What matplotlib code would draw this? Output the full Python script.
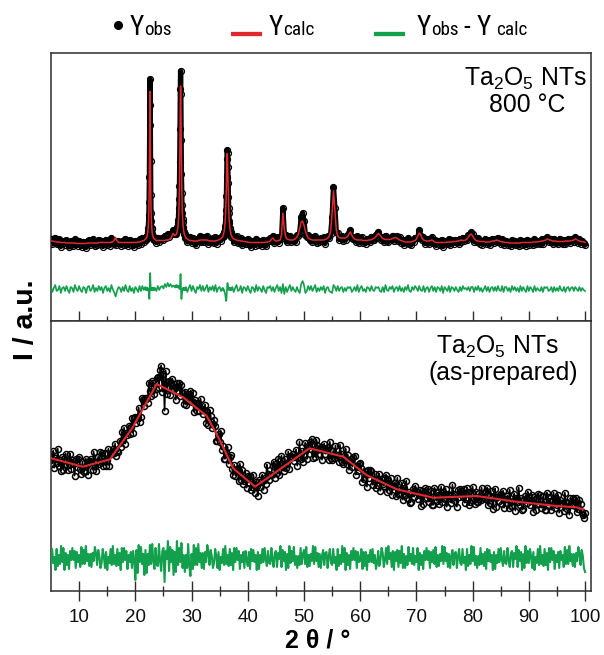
import numpy as np
import matplotlib
matplotlib.use("Agg")
import matplotlib.pyplot as plt
from matplotlib import font_manager as fm
from matplotlib.font_manager import FontProperties
from matplotlib.lines import Line2D
from matplotlib.ticker import FixedLocator

# ============================ DATA ============================
# ---- upper panel: Ta2O5 NTs 800 °C (sampling segments: start 2θ, step) ----
top_a_start, top_a_step = 5.0, 0.25
top_calc_a = [2, 2, 1.5, 1.5, 1, 1, 1, 0.5, 0.5, 0.5, 0.5, 0, 0, 0, 0, 0,
              0, 0, -0.5, -0.5, -0.5, -0.5, -0.5, -0.5, -0.5, -0.5, 0, 0, 0, 0, 0, 0,
              0, 0, 0.5, 0.5, 0.5, 0.5, 0.5, 0.5, 0.5, 0.5, 0.5, 1, 1, 3, 5.5, 2,
              0.5, 0.5, 0.5, 0.5, 0.5, 0.5, 0.5, 0.5, 0.5, 0.5, 0.5, 0.5, 0.5, 0.5, 1, 1,
              1.5, 2, 2.5, 3.5]
top_obs_a = [4, -1, 2.5, 5.5, -1, 0, 4, -3.5, 1.5, 2.5, -1.5, 3, -1, -4, 2, 1,
             -3, 4, -0.5, -2.5, 2.5, -1.5, -3.5, 1.5, 0.5, -4.5, 2, 3, -2, 0, 4, -3,
             1, -2, 3.5, -0.5, 2.5, -3.5, 1.5, 3.5, -1.5, 1.5, -2.5, 5, 0.5, -0.5, -2, 0,
             2.5, 1.5, -2.5, 2.5, -1.5, 4.5, -0.5, -2.5, 3.5, -1.5, 1.5, -3.5, 2.5, 0.5, -2, 4,
             -0.5, 5, 1.5, 5.5]

top_p1_start, top_p1_step = 21.8, 0.05
top_calc_p1 = [4, 4, 4.5, 5, 5.5, 6, 7, 8.5, 10, 13, 16.5, 22, 31.5, 47.5, 76.5, 121.5,
               151.5, 121.5, 76.5, 47.5, 31.5, 22, 16.5, 13, 10, 8.5, 7, 6, 5.5, 5, 4.5, 4, 4]
top_obs_p1 = [4.5, 3, 5.5, 4.5, 7, 5, 7.5, 7.5, 11, 11.5, 15.5, 20, 28.5, 41.5, 66.5, 117.5,
              164, 137.5, 82.5, 48.5, 30.5, 22.5, 15.5, 14, 9.5, 9.5, 6, 6.5, 4.5, 6, 4, 5, 3]

top_b_start, top_b_step = 23.5, 0.25
top_calc_b = [3.5, 2.5, 2.5, 2.5, 2.5, 2.5, 2.5, 2.5, 3, 3, 3.5, 4.5, 7, 9.5, 7.5]
top_obs_b = [4.5, 0.5, 5.5, 1.5, 4.5, 5.5, 3, 7.5, 5, 9, 6, 9.5, 9, 13, 9.5]

top_p2_start, top_p2_step = 27.05, 0.05
top_calc_p2 = [8, 8, 8, 8, 8.5, 9, 9.5, 10.5, 11.5, 13, 15, 17.5, 21, 26, 33, 43, 57.5, 79.5,
               109, 141.5, 157, 141, 109, 79, 57.5, 42.5, 32.5, 25.5, 20.5, 17, 14.5, 12,
               10.5, 9.5, 8.5, 7.5, 7, 6, 5.5]
top_obs_p2 = [10, 11.5, 9.5, 11, 10.5, 13, 12, 13.5, 13, 16.5, 17, 20.5, 23, 29, 35, 44, 57.5,
              81.5, 114, 153.5, 172, 149, 103, 69, 50.5, 38.5, 30.5, 24.5, 21.5, 16, 15, 11,
              11.5, 9, 9.5, 6.5, 7.5, 5, 6.5]

top_c_start, top_c_step = 29.0, 0.25
top_calc_c = [5, 4, 3, 2.5, 2.5, 2, 2, 2, 2, 2.5, 3, 3, 3, 3, 3, 3,
              2.5, 2, 2, 2, 2, 2, 2.5, 3, 3.5, 4.5, 6]
top_obs_c = [7, 1, 4, 6.5, 0.5, 5, 1, -2, 4, 2.5, 7, 1, 6, 1, 4, 7,
             -0.5, 4, 1, 5, 0, 6, -0.5, 4, 5.5, 2.5, 7]

top_p3_start, top_p3_step = 35.55, 0.05
top_calc_p3 = [6.5, 7.5, 8, 9, 10.5, 12, 13.5, 16, 19, 23, 28.5, 36, 45.5, 58, 72, 84.5,
               89.5, 84.5, 72, 58, 45.5, 36, 28.5, 23, 19, 16, 13.5, 12, 10.5, 9, 8, 7.5]
top_obs_p3 = [7.5, 6.5, 8.5, 7.5, 9.5, 10, 11, 12.5, 14.5, 17, 20.5, 26, 33.5, 47, 66, 84.5,
              93, 90.5, 76, 60, 46.5, 35, 30, 22.5, 20, 15, 14, 11, 11.5, 8.5, 9, 6.5]

top_d_start, top_d_step = 37.25, 0.25
top_calc_d = [5.5, 4, 3.5,
              3, 2.5, 2.5, 2, 2, 1.5, 1.5, 1, 1, 0.5, 0.5, 0.5, 0.5, 0.5, 0.5, 0.5,
              0.5, 0.5, 0.5, 0.5, 0.5, 1, 1, 1.5, 2, 4, 5, 3, 2, 2, 2.5, 3,
              8, 30, 14, 6, 4, 3.5, 3, 3, 3, 3.5, 4.5, 6, 9, 15, 21, 22,
              18, 12, 8, 5, 4, 3.5, 3, 3, 3, 3, 3, 3, 3, 3, 3, 3.5,
              4, 5, 7, 12, 30, 52, 33, 13, 7, 5.5, 5, 5, 5, 5, 5.5, 6.5,
              9, 11, 8, 5.5, 4, 3.5, 3, 3, 3, 3, 2.5, 2.5, 2.5, 2.5, 3, 3,
              3.5, 4, 5, 6, 8, 9.5, 8, 6, 4.5, 4, 3.5, 3.5, 3.5, 3.5, 4, 4.5,
              5, 5.5, 5, 4, 3, 2.5, 2, 1.5, 1, 1, 1, 1, 1, 1.5, 2, 2.5,
              4, 7, 10, 8.5, 5, 3, 2.5, 2, 2, 2, 2.5, 3, 2, 1, 0.5, 0.5,
              0.5, 0.5, 0.5, 0.5, 0.5, 0.5, 1, 1, 1, 1, 1.5, 1.5, 1.5, 2, 2, 2.5,
              3, 2.5, 2.5, 3, 4, 6, 8, 9, 7, 4.5, 3, 2, 2, 1.5, 1.5, 1.5,
              1.5, 1, 1, 1, 1, 1.5, 2, 2, 2.5, 3, 2.5, 2, 1.5, 1, 1, 0.5,
              0.5, 0.5, 0, 0, 0, 0, 0, 0, 0, 0, 0, 0.5, 0.5, 0.5, 0.5, 0.5,
              0.5, 0.5, 0.5, 1, 1, 1, 1, 1.5, 1.5, 2, 2, 2.5, 3, 4, 3.5, 3,
              2.5, 2, 2, 2, 1.5, 1.5, 1.5, 1.5, 1.5, 1.5, 2, 2, 2, 2, 2.5, 2.5,
              3, 4, 3.5, 2.5, 2, 1.5, 1.5, 1,
              0.5]
top_obs_d = [7.5, 1, 4.5,
             7, 0.5, 1.5, 5, -2, 3.5, 2.5, -1, 4, -0.5, -3.5, 2.5, 1.5, -2.5, 4.5, -1.5,
             2.5, 0.5, -2.5, 3.5, -0.5, -3, 3, 2.5, 5, 2, 7, 0, 3, 6, 0.5, 5,
             4, 35, 9, 8, 1, 4.5, 7, 1, 5, 2.5, 1.5, 8, 7, 11, 26, 30,
             22, 8, 6, 8, 3, 6.5, 1, 4, 7, 0, 4, 1, 5, 2, 6, -0.5,
             5, 7, 5, 9, 26, 56, 35, 11, 10, 3.5, 6, 7, 2, 6, 3.5, 8.5,
             10, 13, 5, 4.5, 6, 1.5, 7, 0, 4, 6, 0.5, 2.5, -0.5, 4.5, 4, 1,
             6.5, 3, 3, 8, 9, 11.5, 6, 3, 6.5, 1, 7.5, 2.5, 1.5, 5.5, 4, 7.5,
             2, 6.5, 7, 2, 6, 0.5, 3, -1.5, 3, 0, 5, -1, -2, 3.5, 1, 5.5,
             5, 5, 13, 7.5, 3, 6, -0.5, 3, 4, -1, 3.5, 6, 0, 3, -2.5, 2.5,
             1.5, -1.5, 3.5, -3.5, 2.5, 0.5, -1, 4, -2, 3, 2.5, -0.5, 3.5, 1, -1, 4.5,
             1, 5.5, 2.5, 4, 3, 8, 6, 11, 9, 1.5, 5, 1, 5, -0.5, 2.5, -1.5,
             1.5, 4, -1, 3, -2, 2.5, 4, 0, 4.5, 1, 5.5, 1, -0.5, 4, -2, 2.5,
             2.5, -1.5, 1, -3, 3, -1, 2, -2, 1, -3, 3, -1.5, 2.5, -0.5, -2.5, 3.5,
             -1.5, 2.5, 0.5, -2, 4, -1, 2, 0.5, -0.5, 4, -1, 4.5, 4, 6, 1.5, 2,
             4.5, -1, 4, 0, 2.5, -0.5, 4.5, 0.5, -0.5, 3.5, -1, 3, 4, 0, 3.5, 4.5,
             1, 6, 3.5, 0.5, 4, -0.5, 2.5, 0,
             -1.5]

# ---- lower panel: Ta2O5 NTs as-prepared (2θ from 5.0 in steps of 0.2) ----
bot_start, bot_step = 5.0, 0.2
bot_obs = [137, 127, 140, 123, 133, 128, 142, 125, 131, 120, 134, 121, 132, 137, 126,
           121, 130, 137, 122, 131, 127, 115, 132, 124, 132, 134, 122, 117, 129, 119,
           120, 132, 126, 116, 130, 129, 132, 121, 139, 125, 120, 129, 134, 127, 139,
           138, 125, 130, 138, 125, 131, 142, 125, 138, 137, 142, 138, 147, 135, 140,
           139, 150, 144, 159, 151, 163, 147, 158, 156, 165, 157, 164, 173, 158, 173,
           174, 168, 174, 183, 169, 174, 193, 191, 185, 193, 193, 188, 208, 200, 195,
           210, 208, 197, 202, 213, 214, 203, 221, 225, 199, 217, 180, 220, 197, 209,
           210, 196, 208, 212, 202, 204, 191, 208, 200, 208, 195, 206, 198, 187, 199,
           186, 194, 197, 190, 200, 189, 198, 179, 191, 188, 180, 188, 180, 192, 182,
           177, 181, 186, 168, 179, 166, 181, 175, 163, 167, 171, 165, 150, 150, 157,
           149, 160, 141, 145, 132, 132, 139, 144, 127, 134, 136, 122, 116, 126, 115,
           121, 123, 110, 127, 111, 121, 107, 110, 118, 103, 115, 108, 115, 101, 104,
           116, 98, 109, 105, 95, 111, 104, 109, 116, 101, 113, 107, 126, 117, 111,
           116, 116, 125, 129, 113, 127, 118, 132, 116, 127, 135, 124, 120, 132, 123,
           128, 139, 122, 135, 134, 137, 130, 134, 141, 125, 134, 149, 132, 140, 129,
           135, 148, 141, 132, 145, 149, 142, 152, 133, 138, 134, 151, 146, 137, 142,
           144, 131, 143, 147, 137, 141, 144, 131, 149, 133, 131, 140, 133, 145, 136,
           136, 129, 146, 137, 129, 127, 135, 142, 127, 136, 121, 129, 132, 124, 134,
           135, 116, 125, 120, 127, 128, 123, 109, 112, 120, 117, 104, 121, 113, 121,
           120, 106, 110, 117, 103, 106, 111, 117, 100, 112, 107, 105, 113, 116, 99,
           111, 101, 113, 96, 105, 105, 108, 95, 113, 97, 97, 102, 108, 91, 103,
           96, 110, 93, 99, 88, 89, 98, 102, 94, 105, 100, 92, 96, 101, 85,
           100, 87, 99, 103, 93, 102, 89, 93, 100, 86, 86, 103, 99, 90, 96,
           87, 96, 104, 89, 99, 92, 102, 84, 97, 96, 95, 88, 106, 97, 90,
           96, 84, 101, 94, 102, 100, 94, 102, 88, 92, 103, 99, 86, 89, 98,
           104, 92, 87, 99, 89, 89, 98, 91, 103, 94, 93, 92, 100, 103, 86,
           88, 100, 93, 82, 95, 102, 84, 94, 90, 96, 97, 87, 100, 83, 92,
           92, 95, 83, 101, 85, 85, 90, 97, 80, 93, 89, 103, 86, 93, 81,
           82, 91, 95, 88, 99, 94, 86, 90, 96, 79, 94, 81, 93, 97, 87,
           96, 83, 87, 95, 81, 81, 98, 94, 85, 90, 81, 90, 98, 83, 93,
           86, 96, 78, 91, 88, 87, 80, 98, 89, 82, 88, 76, 93, 86, 93,
           91, 85, 93, 79, 82, 91, 87, 79, 76, 73,
           78]
bot_diff = [-7, 9, -5, 1, -12, 9, -8, 3, -6, 12, -4, 10, -12, 5, -7,
            3, -11, 7, -2, 10, -2, 7, -10, 6, -4,
            3, -9, 11, -6, 8, -6, 12, -3, 4, -8, 4, -9, 5, -3, 11,
            5, -7, 8, 2, -10, -5, 9, 2, -10, 6, -12, 1, -5, 9, -7,
            12, -6, 3, -8, 9, -7, 5, -12, 10, -4, 10, -2, 7, -11, 3,
            -4, 6, -10, 7, -2,
            -22, 8, -15, 13, -4, 11, -6, 4, -17, 8, -15, 4, -7, 13, -6,
            14, -3, -11, 10, -7, -8, 14, -3, -13, 7, 10, -24, 7, -1, 17,
            -13, 11, -4, 8, -17, 6, -14, 17, -7, 10, -4, 15, -10, 3, -14,
            3, -10, 14, -8, -18,
            4, -11, 13, -7, 10, -7, 14, -4, 5, -10, 5, -11, 6, -4, 13,
            5, -7, 8, 2, -10, -5, 9, 2, -10, 6, -12, 1, -5, 9, -7,
            12, -6, 3, -8, 9, -7, 5, -12, 10, -4, 10, -2, 7, -11, 3,
            -4, 6, -10, 7, -2,
            -8, 6, -11, 9, -3, 8, -4, 3, -12, 6, -11, 3, -5, 9, -4,
            10, -2, -8, 7, -5, -6, 10, -2, -9, 5, 7, -9, 5, -1, 12,
            -9, 8, -3, 6, -12, 4, -10, 12, -5, 7, -3, 11, -7, 2, -10,
            2, -7, 10, -6, 4,
            8, -6, 11, -9, 3, -8, 4, -3, 12, -6, 11, -3, 5, -9, 4,
            -10, 2, 8, -7, 5, 6, -10, 2, 9, -5, -7, 9, -5, 1, -12,
            9, -8, 3, -6, 12, -4, 10, -12, 5, -7, 3, -11, 7, -2, 10,
            -2, 7, -10, 6, -4,
            -3, 9, -11, 6, -8, 6, -12, 3, -4, 8, -4, 9, -5, 3, -11,
            -5, 7, -8, -2, 10, 5, -9, -2, 10, -6, 12, -1, 5, -9, 7,
            -12, 6, -3, 8, -9, 7, -5, 12, -10, 4, -10, 2, -7, 11, -3,
            4, -6, 10, -7, 2,
            -4, 10, -12, 5, -7, 3, -11, 7, -2, 10, -2, 7, -10, 6, -4,
            8, -6, 11, -9, 3, -8, 4, -3, 12, -6, 11, -3, 5, -9, 4,
            -10, 2, 8, -7, 5, 6, -10, 2, 9, -5, -7, 9, -5, 1, -12,
            9, -8, 3, -6, 12,
            -3, 11, -7, 2, -10, 2, -7, 10, -6, 4, -8, 6, -11, 9, -3,
            8, -4, 3, -12, 6, -11, 3, -5, 9, -4, 10, -2, -8, 7, -5,
            -6, 10, -2, -9, 5, 7, -9, 5, -1, 12, -9, 8, -3, 6, -12,
            4, -10, 12, -5, 7,
            -5, 9, 2, -10, 6, -12, 1, -5, 9, -7, 12, -6, 3, -8, 9,
            -7, 5, -12, 10, -4, 10, -2, 7, -11, 3, -4, 6, -10, 7, -2,
            3, -9, 11, -6, 8, -6, 12, -3, 4, -8, 4, -9, 5, -3, 11,
            5, -7, 8, 2, -10,
            -14]
# calculated profile of the as-prepared sample (red polyline vertices)
bot_calc_theta = [5.0, 10.7, 15.5, 19.5, 23.8, 28.5, 32.7, 35.0, 37.4, 41.3,
                  51.0, 57.0, 61.1, 66.5, 73.0, 80.7, 87.8, 95.0, 98.5, 99.7]
bot_calc = [132.4, 124, 131.4, 163, 206.7, 193.4, 174.7, 150.7, 122.4, 104,
            142.4, 134, 115.7, 101.4, 93, 94.7, 89, 84.7, 83.4, 81.4]

x_major = [10, 20, 30, 40, 50, 60, 70, 80, 90, 100]
x_minor = [15, 25, 35, 45, 55, 65, 75, 85, 95]

# ============================ BUILD SERIES ============================
top_segments = [
    (top_a_start, top_a_step, top_calc_a, top_obs_a),
    (top_p1_start, top_p1_step, top_calc_p1, top_obs_p1),
    (top_b_start, top_b_step, top_calc_b, top_obs_b),
    (top_p2_start, top_p2_step, top_calc_p2, top_obs_p2),
    (top_c_start, top_c_step, top_calc_c, top_obs_c),
    (top_p3_start, top_p3_step, top_calc_p3, top_obs_p3),
    (top_d_start, top_d_step, top_calc_d, top_obs_d),
]
tx, tc, to = [], [], []
for start, step, calc, obs in top_segments:
    n = min(len(calc), len(obs))
    tx.append(start + step * np.arange(n))
    tc.append(np.asarray(calc[:n], float))
    to.append(np.asarray(obs[:n], float))
top_theta = np.concatenate(tx)
top_calc = np.concatenate(tc)
top_obs = np.concatenate(to)
top_diff = top_obs - top_calc

nb = min(len(bot_obs), len(bot_diff))
bot_theta = bot_start + bot_step * np.arange(nb)
bot_obs_a = np.asarray(bot_obs[:nb], float)
bot_diff_a = np.asarray(bot_diff[:nb], float)

# ============================ STYLE ============================
W, H = 604, 655
RED = "#e0282e"
GREEN = "#12a04c"
SPINE = "#2e2e2e"

names = {f.name for f in fm.fontManager.ttflist}
BASE_FONT = "Liberation Sans" if "Liberation Sans" in names else "DejaVu Sans"
LEG_FONT = next((n for n in ["Liberation Sans Narrow", "Arial Narrow", "Nimbus Sans Narrow",
                             "Roboto Condensed"] if n in names), BASE_FONT)


def _wnum(w):
    if isinstance(w, (int, float)):
        return w
    return fm.weight_dict.get(str(w), 400)


def font_file(name, bold):
    for f in fm.fontManager.ttflist:
        low = f.fname.lower()
        if f.name != name or f.style != "normal":
            continue
        if "narrow" in low or "condensed" in low or "cond" in str(f.stretch):
            continue
        if (_wnum(f.weight) >= 600) == bold:
            return f.fname
    return None


_bold_file = font_file(BASE_FONT, True)


def BOLD_FP(size):
    if _bold_file:
        return FontProperties(fname=_bold_file, size=size)
    return FontProperties(family=BASE_FONT, weight="bold", size=size)


plt.rcParams["font.family"] = [BASE_FONT, "DejaVu Sans"]
plt.rcParams["mathtext.fontset"] = "custom"
plt.rcParams["mathtext.rm"] = BASE_FONT
plt.rcParams["mathtext.it"] = BASE_FONT + ":italic"
plt.rcParams["mathtext.bf"] = BASE_FONT + ":bold"

fig = plt.figure(figsize=(W / 100, H / 100), dpi=100)


def px_axes(x0, y0, x1, y1):
    return fig.add_axes([x0 / W, 1 - y1 / H, (x1 - x0) / W, (y1 - y0) / H])


def ftext(x, y, s, **kw):
    return fig.text(x / W, 1 - y / H, s, **kw)


ax1 = px_axes(51, 52.7, 590.7, 320.7)
ax2 = px_axes(51, 320.7, 590.7, 590.7)

# upper panel
ax1.plot(top_theta, top_obs, color="black", lw=3.8, solid_joinstyle="round", zorder=2)
ax1.plot(top_theta, top_obs, ls="none", marker="o", ms=4.3, mfc="none", mec="black",
         mew=0.9, zorder=3)
ax1.plot(top_theta, top_calc, color=RED, lw=1.1, zorder=4)
ax1.plot(top_theta, top_diff - 46, color=GREEN, lw=1.2, zorder=4)
ax1.set_ylim(-77.7, 190.3)

# lower panel
ax2.plot(bot_theta, bot_obs_a, color="black", lw=1.2, zorder=1.5)
ax2.plot(bot_theta, bot_obs_a, ls="none", marker="o", ms=4.3, mfc="none", mec="black",
         mew=1.1, zorder=2)
ax2.plot(bot_calc_theta, bot_calc, color=RED, lw=1.5, zorder=4)
ax2.plot(bot_theta, bot_diff_a + 32.7, color=GREEN, lw=1.5, zorder=3)
ax2.set_ylim(0, 270)

for ax in (ax1, ax2):
    ax.set_xlim(5, 101)
    ax.set_yticks([])
    ax.xaxis.set_major_locator(FixedLocator(x_major))
    ax.xaxis.set_minor_locator(FixedLocator(x_minor))
    for sp in ax.spines.values():
        sp.set_color(SPINE)
        sp.set_linewidth(1.1)

ax1.tick_params(axis="x", which="major", direction="in", length=7.2, width=1.0,
                color=SPINE, labelbottom=False)
ax1.tick_params(axis="x", which="minor", direction="in", length=3.6, width=1.0, color=SPINE)
ax2.tick_params(axis="x", which="major", direction="inout", length=15.1, width=1.0,
                color=SPINE, pad=5.5, labelsize=13.5, labelcolor="#111111")
ax2.tick_params(axis="x", which="minor", direction="inout", length=7.9, width=1.0,
                color=SPINE)

# panel annotations
ftext(525, 85.5, "Ta$_2$O$_5$ NTs", ha="center", va="baseline", fontsize=17.8)
ftext(527, 111.5, "800 °C", ha="center", va="baseline", fontsize=17.8)
ftext(497, 353.8, "Ta$_2$O$_5$ NTs", ha="center", va="baseline", fontsize=17.8)
ftext(503, 380, "(as-prepared)", ha="center", va="baseline", fontsize=17.8)

# axis labels
ftext(25.5, 320, "I / a.u.", rotation=90, ha="center", va="center",
      fontproperties=BOLD_FP(20.5))
ftext(318, 641, "2 θ / °", ha="center", va="center", fontproperties=BOLD_FP(18))

# legend (drawn as figure text)
renderer = fig.canvas.get_renderer()
LEG_BASE = 34.9


def flow(x, pieces):
    for s, size, gap in pieces:
        x += gap
        t = ftext(x, LEG_BASE, s, fontsize=size, family=LEG_FONT, ha="left", va="baseline")
        x = t.get_window_extent(renderer).x1
    return x


fig.add_artist(Line2D([118 / W], [1 - 25.2 / H], transform=fig.transFigure, marker="o",
                      ms=5.5, color="black", ls="none"))
flow(129.5, [("Y", 19.5, 0), ("obs", 13.8, 0.5)])
fig.add_artist(Line2D([231 / W, 262 / W], [1 - 33.7 / H] * 2, transform=fig.transFigure,
                      lw=3.1, color=RED, solid_capstyle="butt"))
flow(268.5, [("Y", 19.5, 0), ("calc", 13.8, 0.5)])
fig.add_artist(Line2D([374 / W, 405 / W], [1 - 33.7 / H] * 2, transform=fig.transFigure,
                      lw=3.1, color=GREEN, solid_capstyle="butt"))
flow(416.5, [("Y", 19.5, 0), ("obs", 13.8, 0.5), ("-", 19.5, 5), ("Y", 19.5, 6),
             ("calc", 13.8, 5)])

fig.savefig("out.png", dpi=100)
